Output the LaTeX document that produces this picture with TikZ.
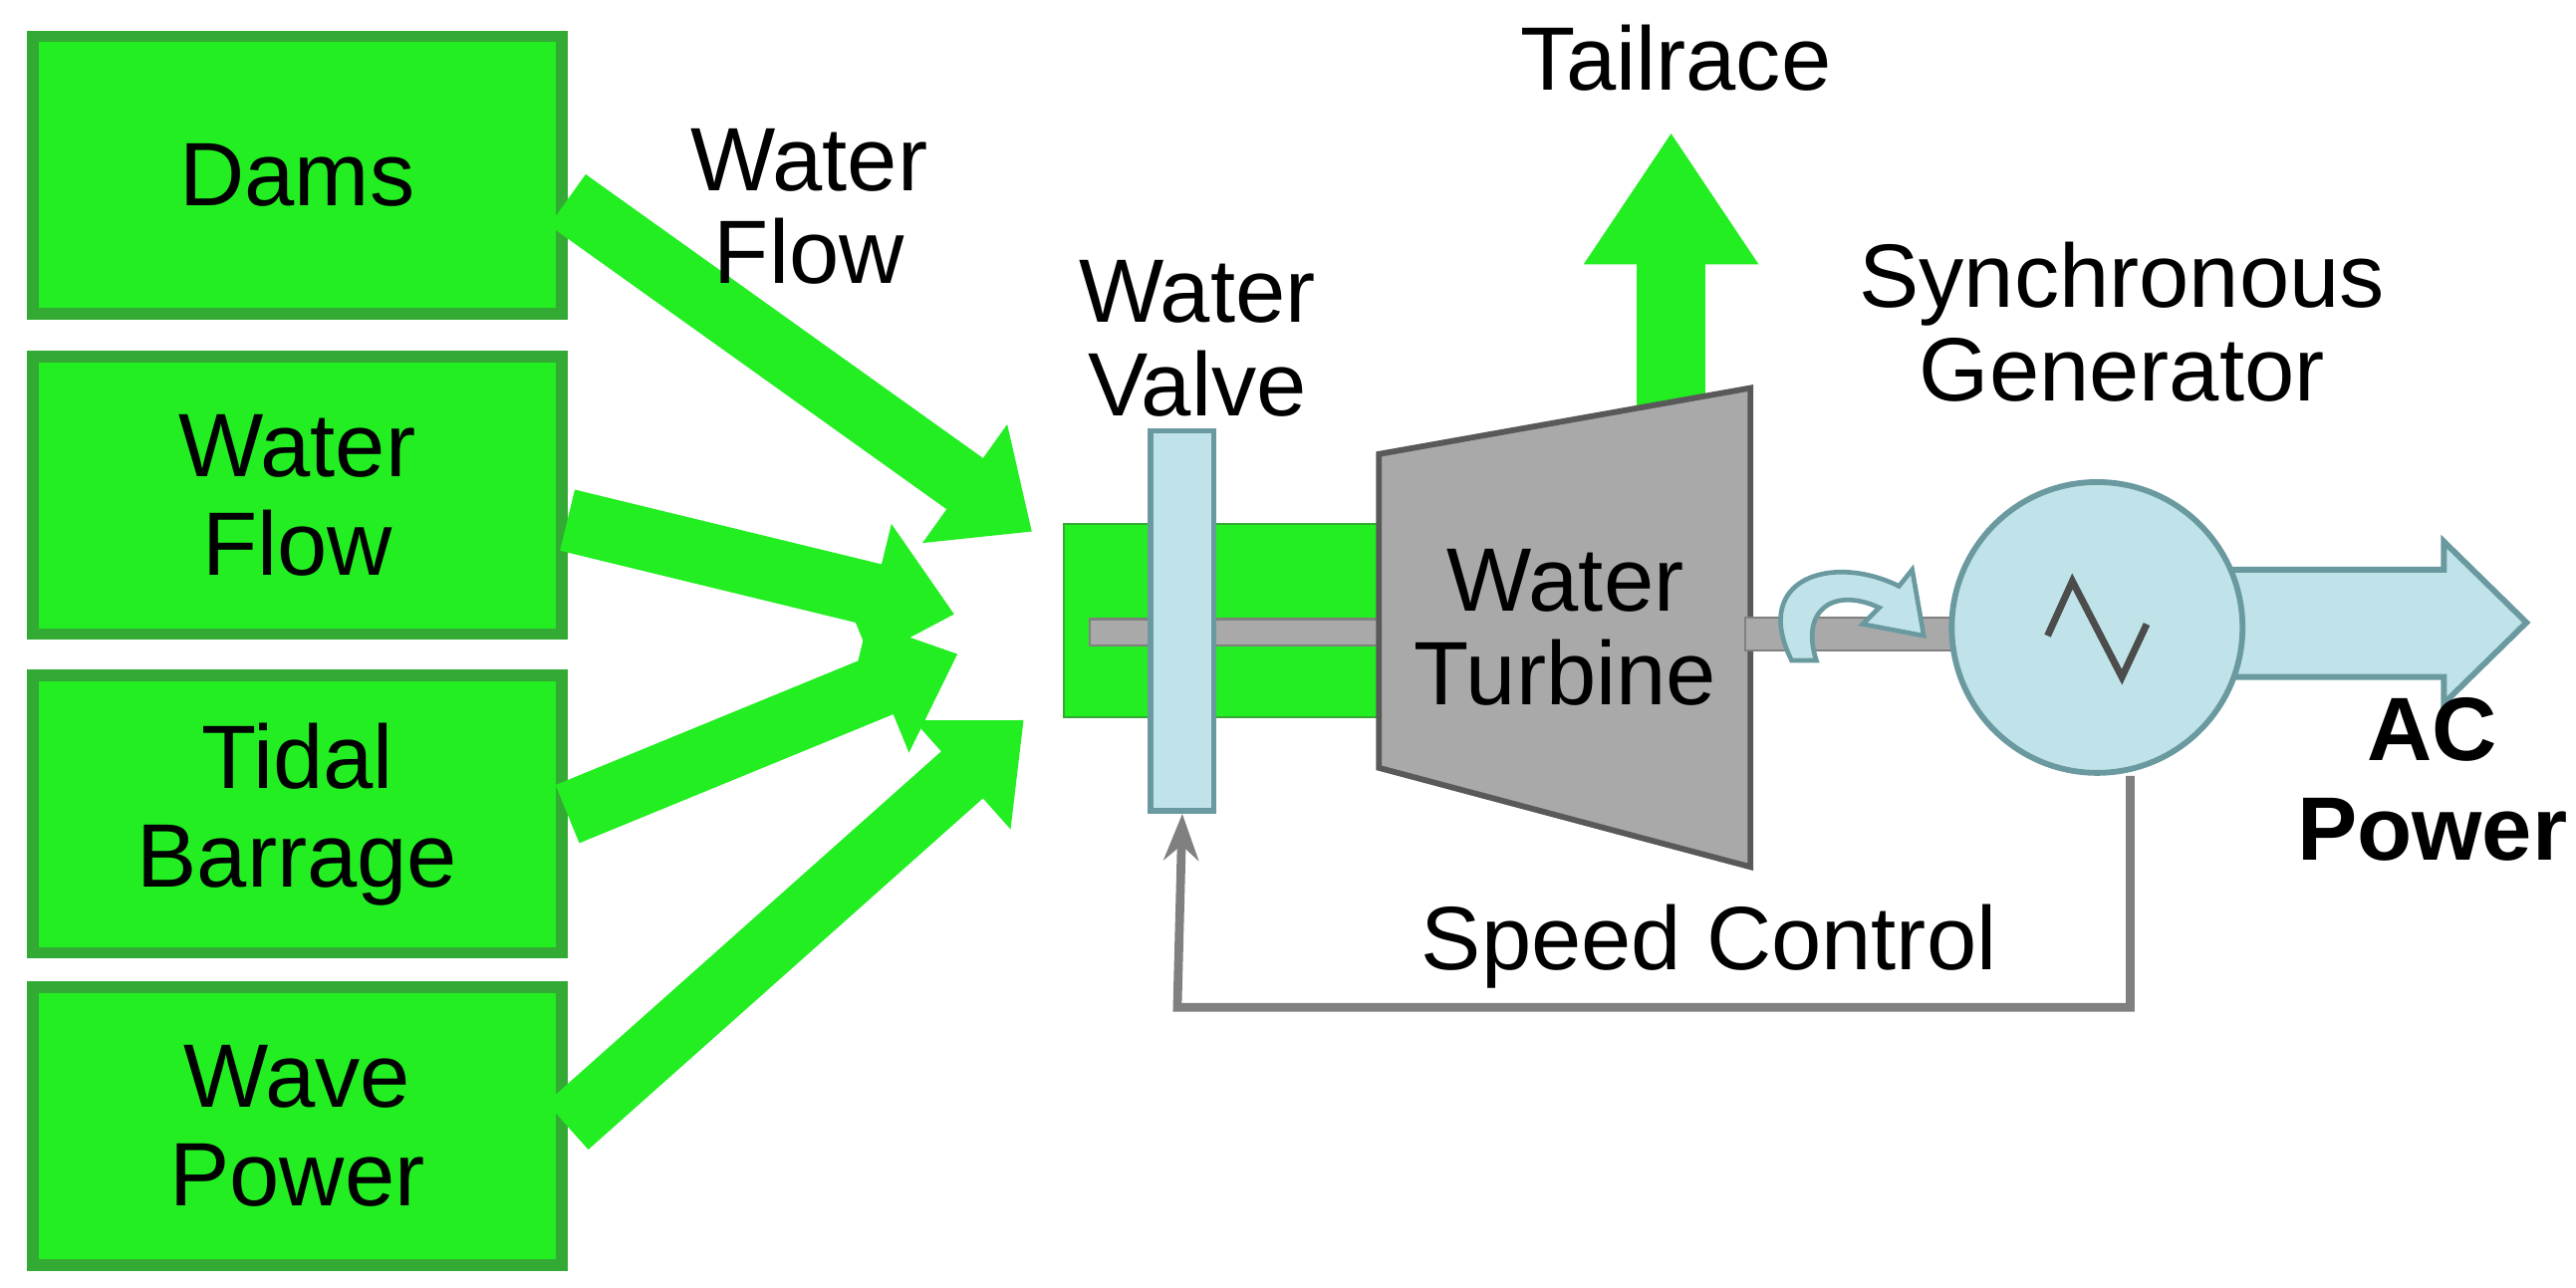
\documentclass[tikz,border=0pt]{standalone}
\usepackage{fontspec}
\setmainfont{Liberation Sans}
\usetikzlibrary{arrows.meta}
\definecolor{gr}{HTML}{22EE22}
\definecolor{grb}{HTML}{33AA33}
\definecolor{lb}{HTML}{BFE3E8}
\definecolor{lbb}{HTML}{6A9AA0}
\definecolor{tg}{HTML}{A9A9A9}
\begin{document}
\begin{tikzpicture}[x=0.01cm,y=-0.01cm,
  box/.style={draw=grb,line width=2pt,fill=gr,minimum width=3.2cm,minimum height=1.68cm,align=center,font=\fontsize{15.5}{17}\selectfont},
  lbl/.style={align=center,font=\fontsize{15.5}{16}\selectfont},
  flow/.style={-{Triangle[length=0.5cm,width=0.85cm]},line width=0.38cm,draw=gr}]
\useasboundingbox (0,0) rectangle (1560,780);
\node[box] (b1) at (180,106) {Dams};
\node[box] (b2) at (180,300) {Water\\Flow};
\node[box] (b3) at (180,493) {Tidal\\Barrage};
\node[box] (b4) at (180,682) {Wave\\Power};
\coordinate (t1) at (625,322);
\coordinate (t2) at (578,372);
\coordinate (t3) at (580,396);
\coordinate (t4) at (620,436);
\draw[flow] (b1.east) ++(0,15) -- (t1);
\draw[flow] (b2.east) ++(0,15) -- (t2);
\draw[flow] (b3.east) ++(0,0) -- (t3);
\draw[flow] (b4.east) ++(0,0) -- (t4);
\node[lbl] (wf) at (490,125) {Water\\Flow};
% pipe
\node[draw=grb,fill=gr,minimum width=1.95cm,minimum height=1.17cm,inner sep=0] (pipe) at (742,376) {};
\node[draw=gray,fill=tg,minimum width=1.8cm,minimum height=0.16cm,inner sep=0] (shaft1) at (750,383) {};
% tailrace
\draw[-{Triangle[length=0.8cm,width=1.0cm]},line width=0.42cm,draw=gr] (1012,255) -- (1012,80) coordinate (tr);
\node[lbl] (tail) at (1015,35) {Tailrace};
% turbine
\draw[draw=gray!70!black,fill=tg,line width=1pt] (835,275) -- (1060,235) -- (1060,525) -- (835,465) -- cycle;
\node[lbl] (turb) at (948,380) {Water\\Turbine};
% valve
\node[draw=lbb,fill=lb,line width=1pt,minimum width=0.38cm,minimum height=2.3cm,inner sep=0] (valve) at (716,376) {};
\node[lbl] (vl) at (725,205) {Water\\Valve};
% shaft 2
\node[draw=gray,fill=tg,minimum width=1.3cm,minimum height=0.2cm,inner sep=0] (shaft2) at (1122,384) {};
% rotation arrow
\draw[draw=lbb,fill=lb,line width=0.8pt] (1085,400) .. controls (1060,350) and (1110,335) .. (1150,355) -- (1158,345) -- (1165,385) -- (1128,378) -- (1138,368) .. controls (1110,355) and (1090,370) .. (1100,400) -- cycle;
% AC arrow
\draw[draw=lbb,fill=lb,line width=1pt] (1350,345) -- (1480,345) -- (1480,328) -- (1530,377) -- (1480,426) -- (1480,410) -- (1350,410) -- cycle;
\coordinate (acend) at (1530,377);
% generator
\node[circle,draw=lbb,fill=lb,line width=1pt,minimum size=1.76cm,inner sep=0] (gen) at (1270,380) {};
\draw[line width=1.2pt,draw=gray!60!black] (1240,385) -- (1255,352) -- (1285,410) -- (1300,378);
\node[lbl] (sg) at (1285,195) {Synchronous\\Generator};
\node[lbl,font=\bfseries\fontsize{15.5}{17}\selectfont] (ac) at (1473,472) {AC\\Power};
% speed control
\draw[gray,line width=1.5pt,-{Stealth[length=8pt]}] (gen.south) ++(20,0) |- (713,610) -- (valve.south);
\node[lbl] (sc) at (1035,573) {Speed Control};
\end{tikzpicture}
\end{document}
